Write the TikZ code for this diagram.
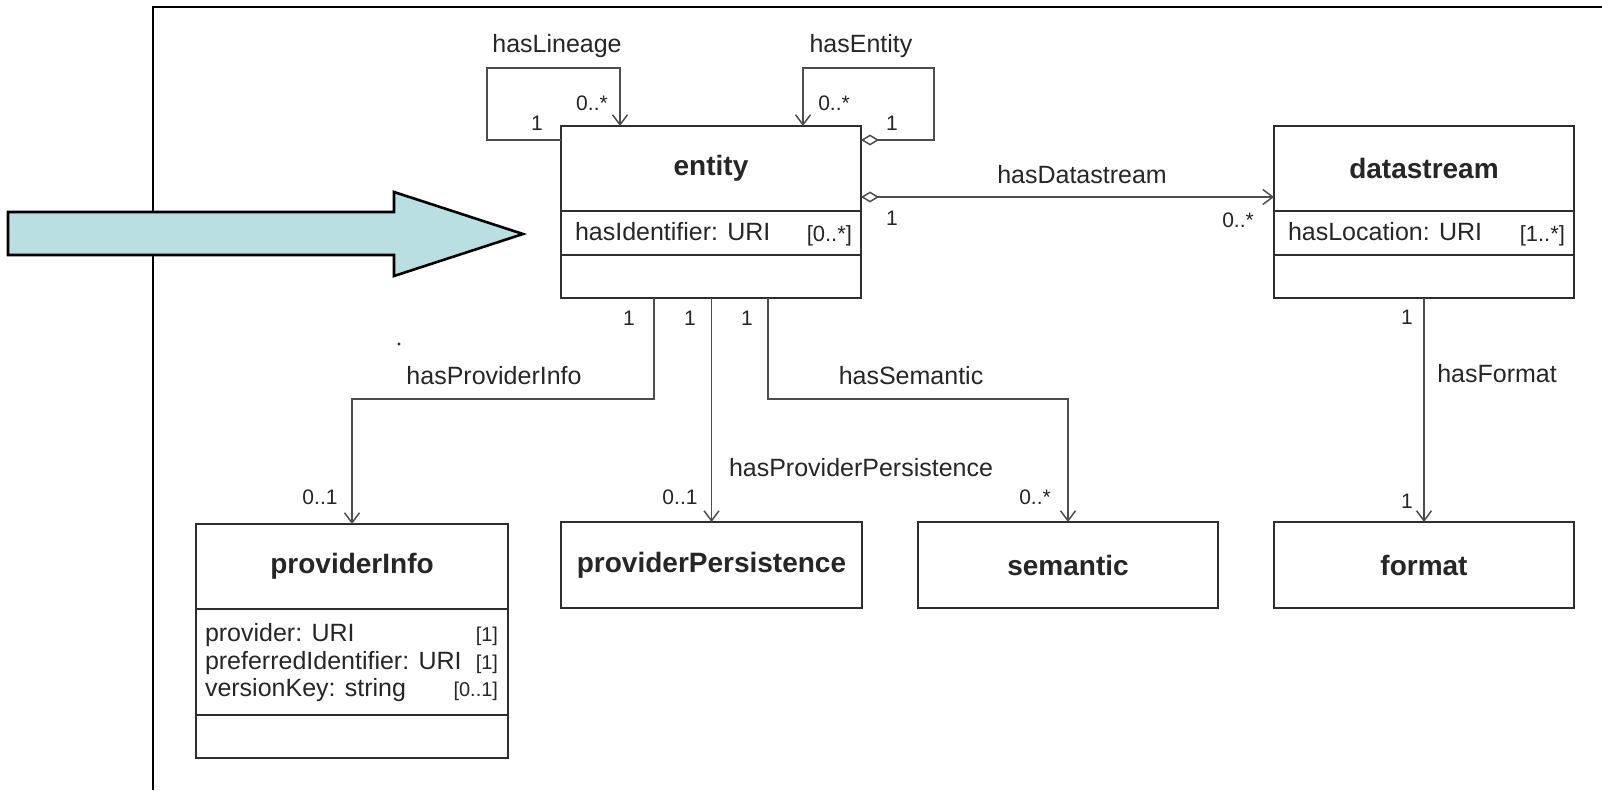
\documentclass[tikz,border=0pt]{standalone}
\usepackage{fontspec}
\setmainfont{Liberation Sans}
\usetikzlibrary{arrows.meta}

\definecolor{boxline}{HTML}{2E2E2E}
\definecolor{linkline}{HTML}{4D4D4D}
\definecolor{inktext}{HTML}{262626}
\definecolor{pointerfill}{HTML}{B9DFE2}

\newcommand{\lbl}{\fontsize{25}{28}\selectfont}
\newcommand{\mul}{\fontsize{21}{24}\selectfont}
\newcommand{\mulsmall}{\fontsize{20}{23}\selectfont}
\newcommand{\clsname}{\fontsize{28}{32}\selectfont\bfseries}

\begin{document}
\begin{tikzpicture}[x=1pt,y=-1pt,
  every node/.style={inner sep=0pt, outer sep=0pt, text=inktext},
  cls/.style={draw=boxline, line width=1.8pt, fill=white, anchor=north west, minimum width=300pt},
  assoc/.style={draw=linkline, line width=1.5pt},
  nav/.style={assoc, -{Straight Barb[length=10pt,width=15pt]}},
  aggnav/.style={assoc, {Diamond[open,length=18pt,width=11pt]}-{Straight Barb[length=10pt,width=15pt]}},
  linklabel/.style={anchor=base, font=\lbl},
  multlabel/.style={anchor=base, font=\mul},
  attr/.style={anchor=base west, font=\lbl},
  attrmult/.style={anchor=base east, font=\mulsmall}
]
\path[use as bounding box, fill=white] (0,0) rectangle (1602,790);

% frame corner
\draw[black, line width=2.2pt] (1602,7) -- (153,7) -- (153,790);

% pointer arrow
\draw[black, line width=2.6pt, fill=pointerfill, line join=miter]
  (8,212) -- (394,212) -- (394,192) -- (523,234) -- (394,276) -- (394,255) -- (8,255) -- cycle;

% entity class
\node[cls, minimum height=85pt] (entityT) at (561,126) {\clsname entity};
\node[cls, minimum height=44pt] (entityA) at (entityT.south west) {};
\node[cls, minimum height=43pt] (entityO) at (entityA.south west) {};
\node[attr] (entityAttr) at (575,240) {hasIdentifier: URI};
\node[attrmult, font=\fontsize{22}{24}\selectfont] (entityAttrM) at (852,241) {[0..*]};

% datastream class
\node[cls, minimum height=85pt] (dsT) at (1274,126) {\clsname datastream};
\node[cls, minimum height=44pt] (dsA) at (dsT.south west) {};
\node[cls, minimum height=43pt] (dsO) at (dsA.south west) {};
\node[attr] (dsAttr) at (1288,240) {hasLocation: URI};
\node[attrmult, font=\fontsize{22}{24}\selectfont] (dsAttrM) at (1565,241) {[1..*]};

% providerInfo class
\node[cls, minimum width=312pt, minimum height=85pt] (piT) at (196,524) {\clsname providerInfo};
\node[cls, minimum width=312pt, minimum height=106pt] (piA) at (piT.south west) {};
\node[cls, minimum width=312pt, minimum height=43pt] (piO) at (piA.south west) {};
\node[attr] (piAttr1) at (205,641) {provider: URI};
\node[attr] (piAttr2) at (205,669) {preferredIdentifier: URI};
\node[attr] (piAttr3) at (205,696) {versionKey: string};
\node[attrmult] (piMult1) at (498,641) {[1]};
\node[attrmult] (piMult2) at (498,669) {[1]};
\node[attrmult] (piMult3) at (498,696) {[0..1]};

% simple classes
\node[cls, minimum width=301pt, minimum height=86pt] (ppT) at (561,522) {\clsname providerPersistence};
\node[cls, minimum height=86pt] (semT) at (918,522) {\clsname semantic};
\node[cls, minimum height=86pt] (fmtT) at (1274,522) {\clsname format};

% self associations
\draw[nav] ([yshift=-14pt]entityT.north west) -| (487,68) -| ([xshift=59pt]entityT.north west);
\draw[aggnav] ([yshift=-14pt]entityT.north east) -| (934,68) -| ([xshift=-58pt]entityT.north east);

% entity -> datastream
\draw[aggnav] ([yshift=14pt]entityT.south east) -- ([yshift=14pt]dsT.south west);

% entity -> lower classes
\draw[nav] ([xshift=93pt]entityO.south west) |- ([yshift=125pt]piT.north) -- (piT.north);
\draw[nav] (ppT.north |- entityO.south) -- (ppT.north);
\draw[nav] ([xshift=207pt]entityO.south west) |- ([yshift=123pt]semT.north) -- (semT.north);

% datastream -> format
\draw[nav] (dsO.south) -- (fmtT.north);

% association names
\node[linklabel] (lLineage) at (557,52) {hasLineage};
\node[linklabel] (lEntity) at (861,52) {hasEntity};
\node[linklabel] (lDatastream) at (1082,183) {hasDatastream};
\node[linklabel] (lProvInfo) at (494,384) {hasProviderInfo};
\node[linklabel] (lSemantic) at (911,384) {hasSemantic};
\node[linklabel] (lProvPers) at (861,476) {hasProviderPersistence};
\node[linklabel] (lFormat) at (1497,382) {hasFormat};

% multiplicities
\node[multlabel] (m1) at (592,110.5) {0..*};
\node[multlabel] (m2) at (537,130.5) {1};
\node[multlabel] (m3) at (834,110.5) {0..*};
\node[multlabel] (m4) at (892,130.5) {1};
\node[multlabel] (m5) at (892,225.5) {1};
\node[multlabel] (m6) at (1238,227.5) {0..*};
\node[multlabel] (m7) at (629,325.5) {1};
\node[multlabel] (m8) at (690,325.5) {1};
\node[multlabel] (m9) at (747,325.5) {1};
\node[multlabel] (m10) at (320,504.5) {0..1};
\node[multlabel] (m11) at (680,504.5) {0..1};
\node[multlabel] (m12) at (1035,504.5) {0..*};
\node[multlabel] (m13) at (1407,324.5) {1};
\node[multlabel] (m14) at (1407,508.5) {1};

% stray mark
\fill[inktext] (399,344) circle (1.6pt);
\end{tikzpicture}
\end{document}
